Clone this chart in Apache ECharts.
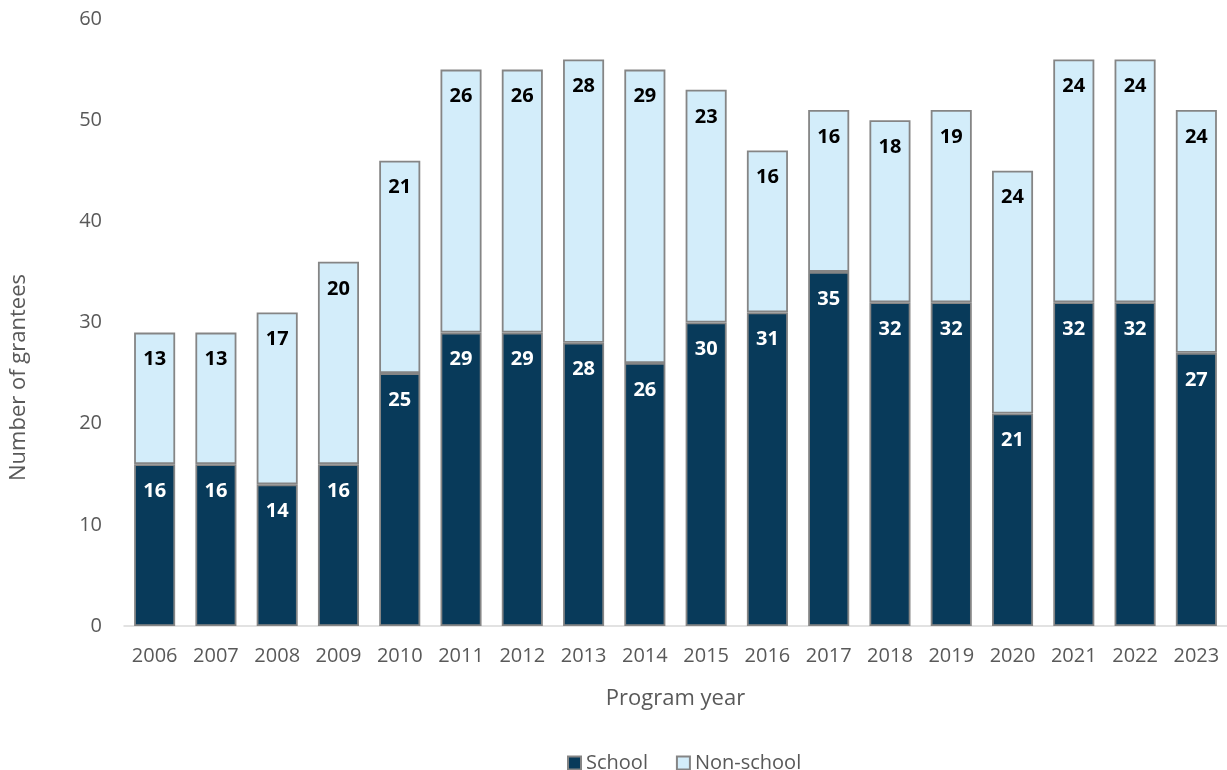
<!DOCTYPE html>
<html>
<head>
<meta charset="utf-8">
<script src="https://cdn.jsdelivr.net/npm/echarts@6/dist/echarts.min.js"></script>
<style>
  html, body { margin: 0; padding: 0; background: #ffffff; }
  #chart { width: 1227px; height: 770px; }
</style>
</head>
<body>
<div id="chart"></div>
<script>
// Grantees per program year, split by organisation type
const years = ['2006','2007','2008','2009','2010','2011','2012','2013','2014','2015','2016','2017','2018','2019','2020','2021','2022','2023'];
const school = [16,16,14,16,25,29,29,28,26,30,31,35,32,32,21,32,32,27];
const nonSchool = [13,13,17,20,21,26,26,28,29,23,16,16,18,19,24,24,24,24];

const FONT = '"Open Sans", "Noto Sans", sans-serif';
const TEXT = '#595959';

const chart = echarts.init(document.getElementById('chart'), null, { renderer: 'canvas' });

const labelCommon = {
  show: true,
  position: 'insideTop',
  distance: 17,
  fontFamily: FONT,
  fontWeight: 'bold',
  fontSize: 20,
  lineHeight: 20
};

chart.setOption({
  animation: false,
  backgroundColor: '#ffffff',
  grid: { left: 122, right: 0, top: 19, bottom: 144 },
  legend: {
    top: 748,
    left: 562,
    itemWidth: 13,
    itemHeight: 13,
    itemGap: 28,
    icon: 'rect',
    textStyle: { fontFamily: FONT, fontSize: 20, color: TEXT },
    data: ['School', 'Non-school']
  },
  xAxis: {
    type: 'category',
    data: years,
    name: 'Program year',
    nameLocation: 'middle',
    nameGap: 62,
    nameTextStyle: { fontFamily: FONT, fontSize: 22, color: TEXT },
    axisLine: { show: true, lineStyle: { color: '#d9d9d9', width: 1.5 } },
    axisTick: { show: false },
    axisLabel: { interval: 0, fontFamily: FONT, fontSize: 20, color: TEXT, margin: 20 }
  },
  yAxis: {
    type: 'value',
    min: 0,
    max: 60,
    interval: 10,
    name: 'Number of grantees',
    nameLocation: 'middle',
    nameGap: 94,
    nameRotate: 90,
    nameTextStyle: { fontFamily: FONT, fontSize: 22, color: TEXT, padding: [0, 110, 0, 0] },
    splitLine: { show: false },
    axisLine: { show: false },
    axisTick: { show: false },
    axisLabel: { fontFamily: FONT, fontSize: 20, color: TEXT, margin: 22 }
  },
  series: [
    {
      name: 'School',
      type: 'bar',
      stack: 'total',
      barWidth: '67%',
      data: school,
      itemStyle: { color: '#083a5a', borderColor: '#858585', borderWidth: 1.8 },
      label: Object.assign({ color: '#ffffff' }, labelCommon)
    },
    {
      name: 'Non-school',
      type: 'bar',
      stack: 'total',
      barWidth: '67%',
      data: nonSchool,
      itemStyle: { color: '#d3edfa', borderColor: '#858585', borderWidth: 1.8 },
      label: Object.assign({ color: '#000000' }, labelCommon)
    }
  ]
});
</script>
</body>
</html>
